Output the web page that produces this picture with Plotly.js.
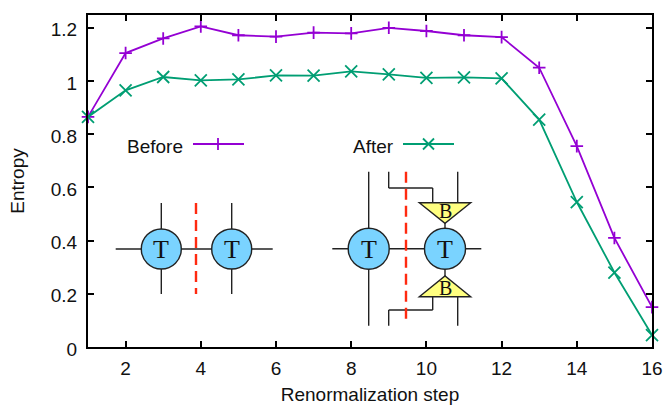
<!DOCTYPE html>
<html><head><meta charset="utf-8">
<script src="https://cdn.plot.ly/plotly-3.0.1.min.js"></script>
<style>html,body{margin:0;padding:0;background:#fff}#c{width:664px;height:405px}</style>
</head><body><div id="c"></div>
<script>
const steps = [1,2,3,4,5,6,7,8,9,10,11,12,13,14,15,16];
const before = [0.865,1.105,1.16,1.205,1.172,1.167,1.182,1.179,1.2,1.188,1.172,1.165,1.05,0.755,0.41,0.15];
const after = [0.865,0.965,1.015,1.002,1.006,1.021,1.02,1.036,1.025,1.012,1.014,1.01,0.855,0.545,0.28,0.045];
const yTicks = [0,0.2,0.4,0.6,0.8,1,1.2];
const yLabels = ['0','0.2','0.4','0.6','0.8','1','1.2'];
const xTicks = [2,4,6,8,10,12,14,16];
const purple = '#9400d3', green = '#009e73';

const W=664,H=405,L=88,R=652,T=15,B=347;
const px=x=>(x-L)/(R-L), py=y=>(B-y)/(B-T);
const base={xref:'paper',yref:'paper'};
const ln=(x0,y0,x1,y1,color='#222',width=1.4,dash='solid')=>({...base,type:'line',x0:px(x0),y0:py(y0),x1:px(x1),y1:py(y1),line:{color,width,dash}});
const circ=(cx,cy,r)=>({...base,type:'circle',x0:px(cx-r),x1:px(cx+r),y0:py(cy-r),y1:py(cy+r),fillcolor:'#7ad3ff',line:{color:'#222',width:1.4}});
const tri=(a,b,c,d)=>({...base,type:'path',path:`M${px(a)},${py(d)} L${px(b)},${py(d)} L${px(c)},${py(d===202.7?223.3:276)} Z`,fillcolor:'#ffff80',line:{color:'#222',width:1.4}});
const redDash=(x,y0,y1)=>ln(x,y0,x,y1,'#ff2a10',2.4,'11px,6px');

const shapes=[
 ln(115.7,249,272.7,249), ln(161.3,203,161.3,294), ln(231.7,203,231.7,294),
 circ(161.3,249,20), circ(231.7,249,20), redDash(196,203,294),
 ln(332.3,248.7,481.3,248.7), ln(368.7,171.7,368.7,325.7), ln(445,223,445,276),
 ln(388.7,171.7,388.7,188), ln(388.7,188,432.7,188), ln(432.7,188,432.7,202.7), ln(457.7,171.7,457.7,202.7),
 ln(388.7,325.7,388.7,310), ln(388.7,310,432.7,310), ln(432.7,310,432.7,296.7), ln(457.7,325.7,457.7,296.7),
 tri(419.3,470.7,445,202.7), tri(419.3,470.7,445,296.7),
 circ(368.7,248.7,20.5), circ(445,248.7,20.5), redDash(406,171.7,320.7),
 ln(193,144,244,144,purple,1.8), ln(218,138,218,150,purple,1.8),
 ln(403,144,454,144,green,1.8), ln(423,138.5,434,149.5,green,1.8), ln(423,149.5,434,138.5,green,1.8)
];
const txt=(x,y,text,size,family,anchor='center')=>({xref:'paper',yref:'paper',x:px(x),y:py(y),text,showarrow:false,xanchor:anchor,yanchor:'middle',font:{size,family,color:'#111'}});
const serif='"Liberation Serif",serif', sans='"Liberation Sans",Arial,sans-serif';
const annotations=[
 txt(125,146,'Before',19,sans,'left'), txt(351,146,'After',19,sans,'left'),
 txt(161.3,249,'T',26,serif), txt(231.7,249,'T',26,serif),
 txt(368.7,249,'T',26,serif), txt(445,249,'T',26,serif),
 txt(445,211,'B',20,serif), txt(445,287.5,'B',20,serif)
];
const tr=(y,name,color,sym,size)=>({x:steps,y,name,type:'scatter',mode:'lines+markers',cliponaxis:false,
 line:{color,width:1.8},marker:{symbol:sym,size,color,line:{color,width:1.8}}});
const axis={showgrid:false,zeroline:false,showline:true,linewidth:2,linecolor:'#000',mirror:'ticks',ticks:'inside',ticklen:6,tickwidth:2,tickcolor:'#000',tickfont:{size:19,family:sans,color:'#111'}};
Plotly.newPlot('c',[tr(before,'Before',purple,'cross-thin-open',9),tr(after,'After',green,'x-thin-open',12)],{
 width:W,height:H,margin:{l:L,r:W-R,t:T,b:H-B},paper_bgcolor:'#fff',plot_bgcolor:'#fff',showlegend:false,
 xaxis:{...axis,range:[1,16],tickmode:'array',tickvals:xTicks,ticklabelstandoff:3,title:{text:'Renormalization step',font:{size:19,family:sans,color:'#111'},standoff:16}},
 yaxis:{...axis,range:[0,(B-T)/266],tickmode:'array',tickvals:yTicks,ticktext:yLabels,ticklabelstandoff:5,ticklabelshift:2,title:{text:'Entropy',font:{size:19,family:sans,color:'#111'},standoff:21}},
 shapes,annotations
},{displayModeBar:false,staticPlot:true});
</script></body></html>
